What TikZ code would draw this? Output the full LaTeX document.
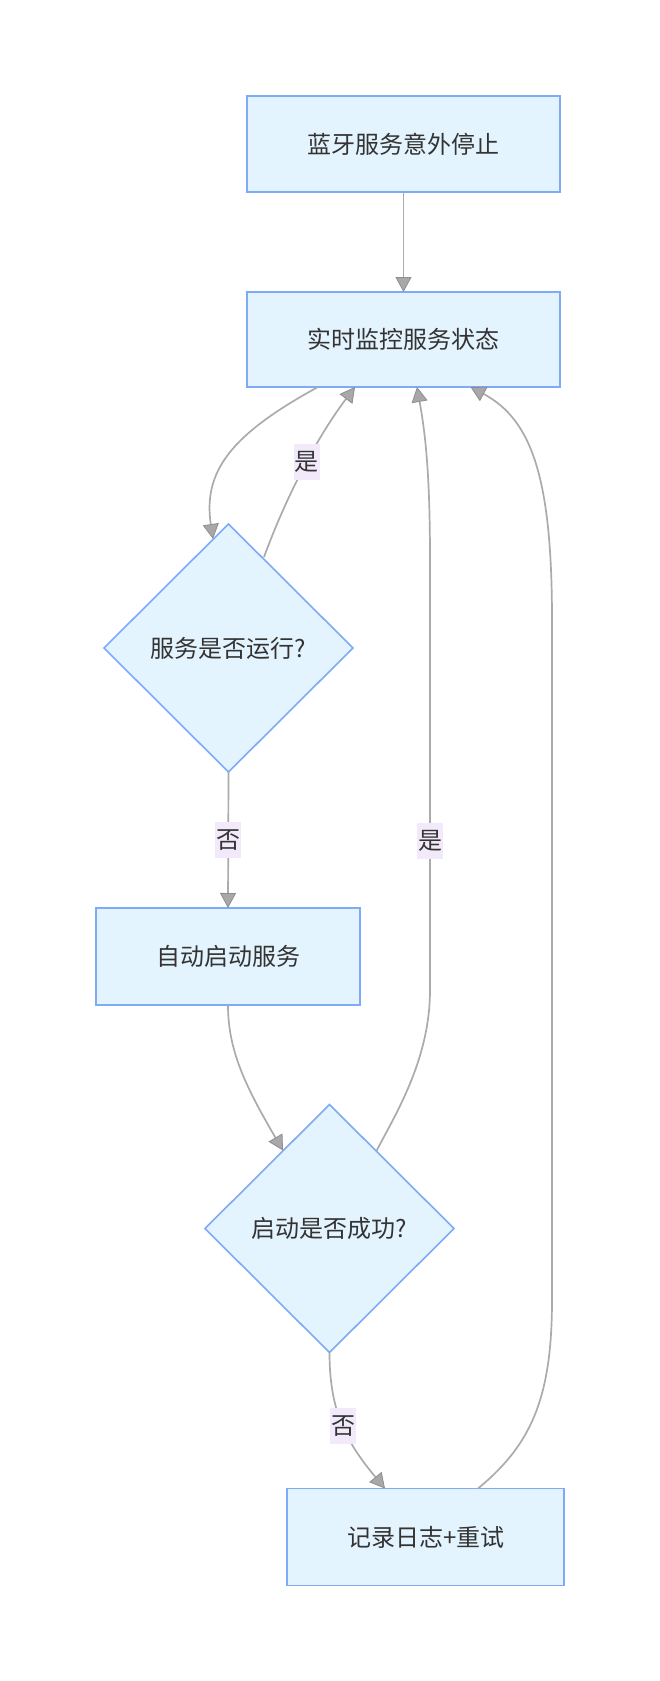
\documentclass[tikz,border=0pt]{standalone}
\usepackage{fontspec}
\setmainfont{Noto Sans CJK SC}
\usetikzlibrary{shapes.geometric,arrows.meta}
\definecolor{boxfill}{HTML}{E4F4FE}
\definecolor{boxline}{HTML}{7EAAF8}
\definecolor{edgecol}{HTML}{ABABAB}
\definecolor{tipfill}{HTML}{A8A8A8}
\definecolor{tipline}{HTML}{8E8E8E}
\definecolor{lblfill}{HTML}{F2EAFB}
\definecolor{txt}{HTML}{333333}
\begin{document}
\begin{tikzpicture}[x=1pt,y=-1pt,
  every node/.style={font=\fontsize{24pt}{29pt}\selectfont, text=txt},
  procbox/.style={draw=boxline, fill=boxfill, line width=1.6pt, rectangle, inner sep=0pt, outer sep=0pt},
  decbox/.style={draw=boxline, fill=boxfill, line width=1.6pt, diamond, inner sep=0pt, outer sep=0pt, minimum width=249pt, minimum height=248pt},
  edge/.style={draw=edgecol, line width=1.7pt, -{Triangle[length=15pt,width=16pt,fill=tipfill,color=tipline,line width=0.8pt]}},
  lbl/.style={fill=lblfill, inner xsep=1pt, inner ysep=0pt, minimum height=36pt, font=\fontsize{24pt}{29pt}\selectfont}
]
\useasboundingbox (0,0) rectangle (660,1681);
\node[procbox, minimum width=313pt, minimum height=96pt] (b1) at (403.5,144) {蓝牙服务意外停止};
\node[procbox, minimum width=313pt, minimum height=95pt] (b2) at (403.5,339.5) {实时监控服务状态};
\node[decbox] (d1) at (228.5,648) {服务是否运行?};
\node[procbox, minimum width=264pt, minimum height=97pt] (b3) at (228,956.5) {自动启动服务};
\node[decbox] (d2) at (329.5,1228.5) {启动是否成功?};
\node[procbox, minimum width=277pt, minimum height=97pt] (b4) at (425.7,1537) {记录日志+重试};

\coordinate (r1) at (430,990);
\coordinate (r2) at (430,560);
\coordinate (r3) at (552,1300);
\coordinate (r4) at (552,620);

% box1 -> box2
\draw[edge] (b1.south) -- (b2.north);
% box2 -> d1
\draw[edge] ([xshift=-85.5pt]b2.south) .. controls +(-88,48) and +(-10,-67) .. ([xshift=-15.5pt,yshift=-15pt]d1.north);
% d1 -> box2 (是)
\draw[edge] ([xshift=35.5pt,yshift=-33pt]d1.north) .. controls +(21,-57) and +(-40,53) .. node[pos=0.55, lbl] (l1) {是} ([xshift=-48.5pt]b2.south);
% d1 -> box3 (否)
\draw[edge] (d1.south) -- node[pos=0.5, lbl] (l2) {否} (b3.north);
% box3 -> d2
\draw[edge] (b3.south) .. controls +(0,45) and +(-38,-65) .. ([xshift=-46.5pt,yshift=-46pt]d2.north);
% d2 -> box2 (是)
\draw[edge] ([xshift=47.2pt,yshift=-46pt]d2.north) .. controls +(18,-35) and +(0,70) .. (r1) -- (r2)
  .. controls +(0,-90) and +(8,45) .. ([xshift=13.5pt]b2.south);
\node[lbl] (l3) at (430,841) {是};
% d2 -> box4 (否)
\draw[edge] (d2.south) .. controls +(0,57) and +(-40,-48) .. node[pos=0.52, lbl] (l4) {否} ([xshift=-40.7pt]b4.north);
% box4 -> box2
\draw[edge] ([xshift=52.3pt]b4.north) .. controls +(52,-43) and +(0,100) .. (r3) -- (r4)
  .. controls +(0,-140) and +(62,33) .. ([xshift=67pt]b2.south);
\end{tikzpicture}
\end{document}
